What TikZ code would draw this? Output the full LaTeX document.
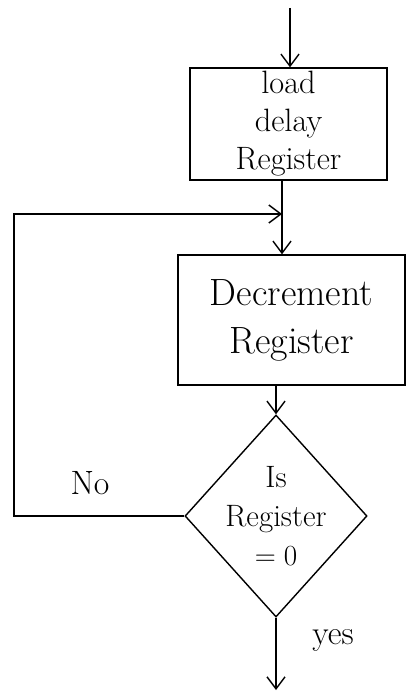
\documentclass[tikz,border=0pt]{standalone}
\usepackage{amsmath,amssymb}
\usepackage{tikz}
\usetikzlibrary{arrows.meta,calc,shapes.geometric}
\tikzset{
%Define standard arrow tip
>={Straight Barb[length=3mm,width=4.5mm]},
%Define style for the boxes and the test
process box/.style={draw, line width=1pt, rectangle, align=center, inner sep=2pt},
decision/.style={draw, line width=1pt, diamond, inner sep=0pt, minimum width=4.55cm, minimum height=5.05cm},
flow line/.style={line width=1pt}, }

\begin{document}
\begin{tikzpicture}[x=0.025cm, y=-0.025cm]

\useasboundingbox (0,0) rectangle (408,695);

% boxes of the chart
\node[process box, minimum width=4.93cm, minimum height=2.8cm,
font=\fontsize{23}{27}\selectfont] (load) at (288.5,124)
{load\\delay\\Register};

\node[process box, minimum width=5.68cm, minimum height=3.25cm,
font=\fontsize{27}{34}\selectfont] (dec) at (291.5,320)
{Decrement\\Register};

\node[decision] (dia) at (276,516) {};
\node[align=center, font=\fontsize{22}{28}\selectfont] (diatext)
at (dia.center) {Is\\Register\\$=0$};

\path coordinate (start) at (290,8) coordinate (j) at (282,214)
coordinate (bl) at (14,516) coordinate (tl) at (14,214)
coordinate (end) at (267,690);

% connections
\draw[flow line, ->] (start) -- (start |- load.north);
\draw[flow line] (j |- load.south) -- (j);
\draw[flow line, ->] (j) -- (j |- dec.north);
\draw[flow line, ->] (dia.north |- dec.south) -- (dia.north);
\draw[flow line, ->] (dia.south) -- (dia.south |- end);
\draw[flow line, ->] (dia.west) -- (bl) -- (tl) -- (j);

\node[font=\fontsize{24}{28}\selectfont] (no) at (90,483) {No};
\node[font=\fontsize{24}{28}\selectfont] (yes) at (333,640) {yes};

\end{tikzpicture}
\end{document}
